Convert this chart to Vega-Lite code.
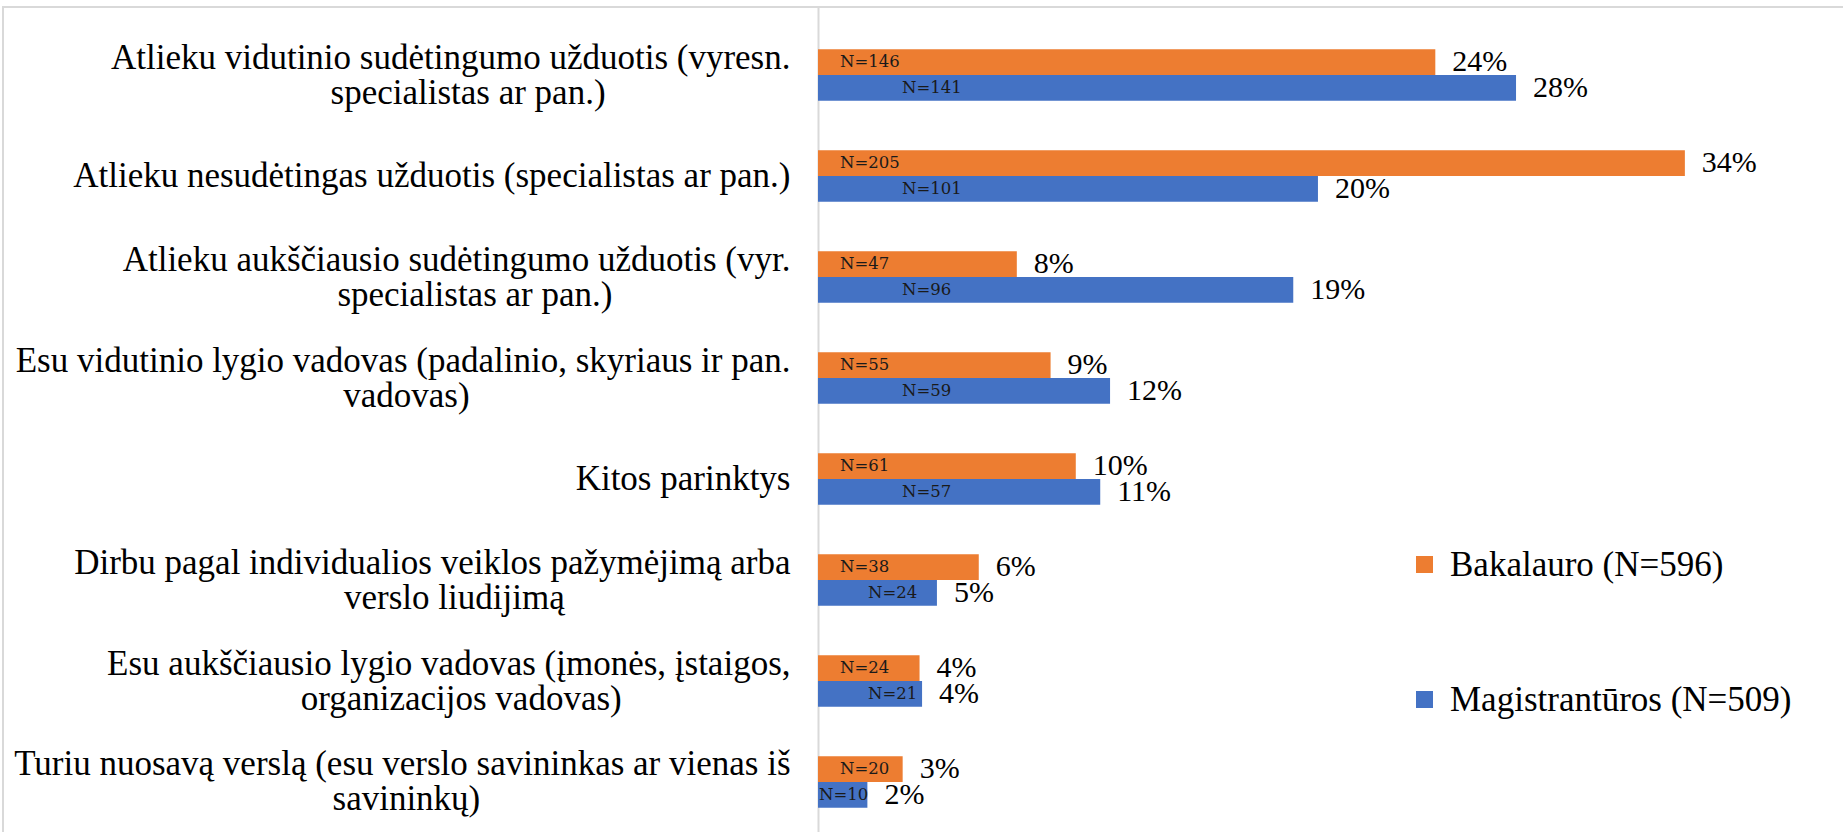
{
  "$schema": "https://vega.github.io/schema/vega-lite/v6.json",
  "width": 1843,
  "height": 830,
  "autosize": {"type": "none"},
  "padding": {"left": 3, "top": 7, "right": 0, "bottom": 0},
  "background": "white",
  "config": {"view": {"stroke": "#d9d9d9", "strokeWidth": 2}, "font": "Liberation Serif"},
  "data": {"values": [
    {"category": "Atlieku vidutinio sudėtingumo užduotis (vyresn.\nspecialistas ar pan.)", "series": "Bakalauro (N=596)", "share": 0.24497, "nlabel": "N=146"},
    {"category": "Atlieku vidutinio sudėtingumo užduotis (vyresn.\nspecialistas ar pan.)", "series": "Magistrantūros (N=509)", "share": 0.2770, "nlabel": "N=141"},
    {"category": "Atlieku nesudėtingas užduotis (specialistas ar pan.)", "series": "Bakalauro (N=596)", "share": 0.3440, "nlabel": "N=205"},
    {"category": "Atlieku nesudėtingas užduotis (specialistas ar pan.)", "series": "Magistrantūros (N=509)", "share": 0.1984, "nlabel": "N=101"},
    {"category": "Atlieku aukščiausio sudėtingumo užduotis (vyr.\nspecialistas ar pan.)", "series": "Bakalauro (N=596)", "share": 0.0789, "nlabel": "N=47"},
    {"category": "Atlieku aukščiausio sudėtingumo užduotis (vyr.\nspecialistas ar pan.)", "series": "Magistrantūros (N=509)", "share": 0.1886, "nlabel": "N=96"},
    {"category": "Esu vidutinio lygio vadovas (padalinio, skyriaus ir pan.\nvadovas)", "series": "Bakalauro (N=596)", "share": 0.0923, "nlabel": "N=55"},
    {"category": "Esu vidutinio lygio vadovas (padalinio, skyriaus ir pan.\nvadovas)", "series": "Magistrantūros (N=509)", "share": 0.1159, "nlabel": "N=59"},
    {"category": "Kitos parinktys", "series": "Bakalauro (N=596)", "share": 0.1023, "nlabel": "N=61"},
    {"category": "Kitos parinktys", "series": "Magistrantūros (N=509)", "share": 0.1120, "nlabel": "N=57"},
    {"category": "Dirbu pagal individualios veiklos pažymėjimą arba\nverslo liudijimą", "series": "Bakalauro (N=596)", "share": 0.0638, "nlabel": "N=38"},
    {"category": "Dirbu pagal individualios veiklos pažymėjimą arba\nverslo liudijimą", "series": "Magistrantūros (N=509)", "share": 0.0472, "nlabel": "N=24"},
    {"category": "Esu aukščiausio lygio vadovas (įmonės, įstaigos,\norganizacijos vadovas)", "series": "Bakalauro (N=596)", "share": 0.0403, "nlabel": "N=24"},
    {"category": "Esu aukščiausio lygio vadovas (įmonės, įstaigos,\norganizacijos vadovas)", "series": "Magistrantūros (N=509)", "share": 0.0413, "nlabel": "N=21"},
    {"category": "Turiu nuosavą verslą (esu verslo savininkas ar vienas iš\nsavininkų)", "series": "Bakalauro (N=596)", "share": 0.0336, "nlabel": "N=20"},
    {"category": "Turiu nuosavą verslą (esu verslo savininkas ar vienas iš\nsavininkų)", "series": "Magistrantūros (N=509)", "share": 0.0196, "nlabel": "N=10"}
  ]},
  "encoding": {
    "y": {
      "field": "category", "type": "nominal", "sort": null,
      "scale": {"paddingInner": 0.49, "paddingOuter": 0.354, "align": 0.591},
      "axis": {
        "title": null,
        "offset": -815,
        "labelExpr": "split(datum.label, '\\n')[0]",
        "labelFont": "Liberation Serif",
        "labelFontSize": 35,
        "labelColor": "#000000",
        "labelPadding": 28,
        "labelLimit": 1000,
        "labelAlign": "right",
        "labelBaseline": "middle",
        "labelOffset": {"condition": {"test": "indexof(datum.label, '\\n') >= 0", "value": -17.5}, "value": 0},
        "ticks": false,
        "domainColor": "#d9d9d9",
        "domainWidth": 2
      }
    }
  },
  "layer": [
    {
      "mark": {"type": "bar"},
      "encoding": {
        "yOffset": {"field": "series", "sort": ["Bakalauro (N=596)", "Magistrantūros (N=509)"], "scale": {"paddingInner": 0, "paddingOuter": 0}},
        "x": {"field": "share", "type": "quantitative", "scale": {"domain": [-0.32341, 0.40794], "nice": false, "zero": false}, "axis": null},
        "color": {
          "field": "series", "type": "nominal",
          "scale": {"domain": ["Bakalauro (N=596)", "Magistrantūros (N=509)"], "range": ["#ED7D31", "#4472C4"]},
          "legend": {
            "title": null,
            "orient": "none",
            "legendX": 1404,
            "legendY": 540,
            "symbolType": "square",
            "symbolSize": 289,
            "symbolStrokeWidth": 0,
            "labelFont": "Liberation Serif",
            "labelFontSize": 35,
            "labelColor": "#000000",
            "labelOffset": 8,
            "labelLimit": 1000,
            "rowPadding": 99
          }
        }
      }
    },
    {
      "transform": [{"filter": "datum.series === 'Bakalauro (N=596)' && indexof(datum.category, '\\n') >= 0"}],
      "mark": {
        "type": "text", "align": "center", "baseline": "middle", "fontSize": 35, "font": "Liberation Serif", "color": "#000000",
        "dy": 17.5,
        "dx": {"expr": "-28 - length(split(datum.category, '\\n')[0]) * 6.85"},
        "text": {"expr": "split(datum.category, '\\n')[1]"}
      },
      "encoding": {
        "x": {"datum": 0, "type": "quantitative"}
      }
    },
    {
      "mark": {"type": "text", "align": "left", "baseline": "middle", "dx": 17, "fontSize": 30, "font": "Liberation Serif", "color": "#000000"},
      "encoding": {
        "yOffset": {"field": "series", "sort": ["Bakalauro (N=596)", "Magistrantūros (N=509)"], "scale": {"paddingInner": 0, "paddingOuter": 0}},
        "x": {"field": "share", "type": "quantitative"},
        "text": {"field": "share", "type": "quantitative", "format": ".0%"}
      }
    },
    {
      "transform": [{"filter": "datum.series === 'Bakalauro (N=596)'"}],
      "mark": {"type": "text", "align": "left", "baseline": "middle", "dx": 22, "fontSize": 16.5, "font": "DejaVu Serif", "color": "#1a1a1a"},
      "encoding": {
        "yOffset": {"field": "series", "sort": ["Bakalauro (N=596)", "Magistrantūros (N=509)"], "scale": {"paddingInner": 0, "paddingOuter": 0}},
        "x": {"datum": 0, "type": "quantitative"},
        "text": {"field": "nlabel"}
      }
    },
    {
      "transform": [{"filter": "datum.series !== 'Bakalauro (N=596)' && datum.share > 0.06"}],
      "mark": {"type": "text", "align": "left", "baseline": "middle", "dx": 84, "fontSize": 16.5, "font": "DejaVu Serif", "color": "#1a1a1a"},
      "encoding": {
        "yOffset": {"field": "series", "sort": ["Bakalauro (N=596)", "Magistrantūros (N=509)"], "scale": {"paddingInner": 0, "paddingOuter": 0}},
        "x": {"datum": 0, "type": "quantitative"},
        "text": {"field": "nlabel"}
      }
    },
    {
      "transform": [{"filter": "datum.series !== 'Bakalauro (N=596)' && datum.share <= 0.06 && datum.share > 0.03"}],
      "mark": {"type": "text", "align": "left", "baseline": "middle", "dx": 50, "fontSize": 16.5, "font": "DejaVu Serif", "color": "#1a1a1a"},
      "encoding": {
        "yOffset": {"field": "series", "sort": ["Bakalauro (N=596)", "Magistrantūros (N=509)"], "scale": {"paddingInner": 0, "paddingOuter": 0}},
        "x": {"datum": 0, "type": "quantitative"},
        "text": {"field": "nlabel"}
      }
    },
    {
      "transform": [{"filter": "datum.series !== 'Bakalauro (N=596)' && datum.share <= 0.03"}],
      "mark": {"type": "text", "align": "left", "baseline": "middle", "dx": 1, "fontSize": 16.5, "font": "DejaVu Serif", "color": "#1a1a1a"},
      "encoding": {
        "yOffset": {"field": "series", "sort": ["Bakalauro (N=596)", "Magistrantūros (N=509)"], "scale": {"paddingInner": 0, "paddingOuter": 0}},
        "x": {"datum": 0, "type": "quantitative"},
        "text": {"field": "nlabel"}
      }
    }
  ]
}
